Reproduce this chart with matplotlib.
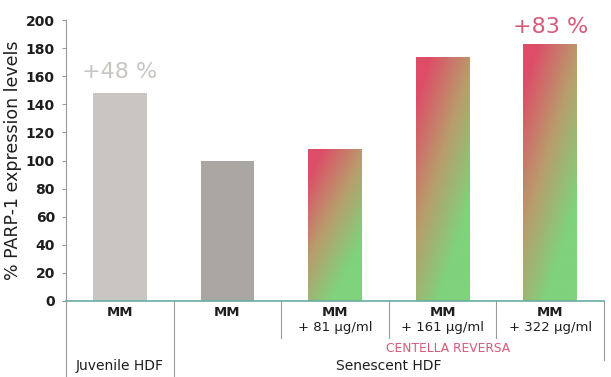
import numpy as np
import matplotlib

matplotlib.use("Agg")
import matplotlib.pyplot as plt
from matplotlib.colors import LinearSegmentedColormap

# values
labels = ["MM", "MM", "MM", "MM", "MM"]
doses = ["", "", "+ 81 µg/ml", "+ 161 µg/ml", "+ 322 µg/ml"]
values = [148, 100, 108, 174, 183]
groups = ["Juvenile HDF", "Senescent HDF"]
yticks = [0, 20, 40, 60, 80, 100, 120, 140, 160, 180, 200]

_GREY_LIGHT = "#c9c6c1"
_GREY_DARK = "#aaa7a3"
_RED = "#de4c68"
_GREEN = "#80d27c"
_PINK_TXT = "#d65a78"
_TEAL = "#6aaca2"
_LINE = "#9a9a9a"
_TEXT = "#1e1e1e"

plt.rcParams["font.family"] = ["Liberation Sans Narrow", "DejaVu Sans"]

fig = plt.figure(figsize=(6.11, 3.77), dpi=100)
ax = fig.add_axes([66 / 611, (377 - 301) / 377, (604 - 66) / 611, 281 / 377])

x = np.arange(len(values))
width = 0.5
bars = ax.bar(x, values, width=width, color=[_GREY_LIGHT, _GREY_DARK, "none", "none", "none"], zorder=2)

# diagonal red -> green gradient for the treated bars
cmap = LinearSegmentedColormap.from_list("rg", [_GREEN, "#b99c6c", _RED])
xf, yf = np.meshgrid(np.linspace(0, 1, 60), np.linspace(0, 1, 200))
w = np.clip(0.9 * yf - 0.6 * xf + 0.25, 0, 1)
for b in bars[2:]:
    x0, y0 = b.get_x(), b.get_y()
    im = ax.imshow(w, cmap=cmap, vmin=0, vmax=1, origin="lower", aspect="auto",
                   extent=[x0, x0 + b.get_width(), y0, y0 + b.get_height()], zorder=2)
    im.set_clip_path(b)

ax.set_xlim(-0.5, 4.5)
ax.set_ylim(0, 200)
ax.set_yticks(yticks)
ax.set_xticks([])
ax.tick_params(axis="y", length=3, color=_LINE, labelsize=10, labelcolor=_TEXT, pad=5)
for lab in ax.get_yticklabels():
    lab.set_fontweight("bold")
for s in ["top", "right"]:
    ax.spines[s].set_visible(False)
ax.spines["left"].set_color(_LINE)
ax.spines["bottom"].set_color(_TEAL)
ax.spines["bottom"].set_linewidth(1.2)
ax.set_ylabel("% PARP-1 expression levels", fontsize=12.5, color=_TEXT,
              family=["DejaVu Sans"], labelpad=3)

ax.text(0, values[0] + 8, "+48 %", ha="center", va="bottom", fontsize=16, color=_GREY_LIGHT, family=["DejaVu Sans"])
ax.text(4, values[4] + 5, "+83 %", ha="center", va="bottom", fontsize=16, color=_PINK_TXT, family=["DejaVu Sans"])

# table below the axis
tr = ax.get_xaxis_transform()
def fy(ypix):
    return (301 - ypix) / 281

for xv, bottom in [(-0.5, 377), (0.5, 377), (1.5, 338), (2.5, 338), (3.5, 338), (4.5, 360)]:
    ax.plot([xv, xv], [0, fy(bottom)], color=_LINE, lw=0.8, transform=tr, clip_on=False)

for i, (lab, dose) in enumerate(zip(labels, doses)):
    ax.text(i, fy(313), lab, ha="center", va="center", fontsize=9.5, color=_TEXT,
            fontweight="bold", transform=tr)
    if dose:
        ax.text(i, fy(328), dose, ha="center", va="center", fontsize=9.5, color=_TEXT, transform=tr)
ax.text(3.05, fy(349), "CENTELLA REVERSA", ha="center", va="center", fontsize=8.8,
        color=_PINK_TXT, transform=tr)
ax.text(0, fy(366), groups[0], ha="center", va="center", fontsize=10, color=_TEXT, transform=tr)
ax.text(2.5, fy(366), groups[1], ha="center", va="center", fontsize=10, color=_TEXT, transform=tr)

fig.savefig("out.png", dpi=100, facecolor="white")
